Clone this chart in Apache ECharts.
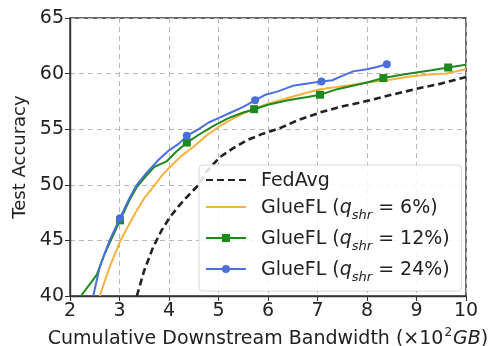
<!DOCTYPE html>
<html>
<head>
<meta charset="utf-8">
<script src="https://cdn.jsdelivr.net/npm/echarts@6/dist/echarts.min.js"></script>
<style>html,body{margin:0;padding:0;background:#fff}#c{width:494px;height:346px}</style>
</head>
<body>
<div id="c"></div>
<script>
// ---- data ----
const fedavgX = [3.35, 3.5, 3.68, 3.85, 4.02, 4.2, 4.36, 4.6, 4.76, 5.03, 5.3, 5.57, 5.9, 6.24, 6.6, 7.05, 7.45, 8.06, 8.5, 9.07, 9.5, 10.0];
const fedavgY = [40.0, 42.3, 44.4, 45.9, 47.1, 48.1, 48.9, 50.0, 51.2, 52.5, 53.3, 54.0, 54.6, 55.1, 55.8, 56.5, 57.0, 57.6, 58.1, 58.7, 59.1, 59.7];

const q6X = [2.6, 2.8, 3.01, 3.2, 3.35, 3.5, 3.68, 3.85, 4.02, 4.25, 4.49, 4.75, 5.0, 5.35, 5.7, 6.0, 6.4, 6.8, 7.05, 7.4, 7.72, 8.0, 8.4, 8.8, 9.2, 9.6, 10.0];
const q6Y = [40.0, 42.6, 44.9, 46.5, 47.7, 48.8, 49.8, 50.8, 51.6, 52.6, 53.4, 54.4, 55.2, 56.1, 56.8, 57.3, 57.8, 58.3, 58.6, 58.8, 59.0, 59.2, 59.4, 59.7, 59.9, 60.0, 60.4];

const q12X = [2.22, 2.54, 2.7, 3.01, 3.2, 3.35, 3.5, 3.7, 3.95, 4.15, 4.36, 4.6, 4.9, 5.2, 5.5, 5.72, 6.0, 6.4, 6.8, 7.05, 7.4, 7.8, 8.0, 8.33, 8.7, 9.0, 9.3, 9.64, 10.0];
const q12Y = [40.0, 41.9, 43.8, 46.8, 48.6, 49.8, 50.6, 51.6, 52.1, 53.0, 53.8, 54.5, 55.3, 56.0, 56.5, 56.8, 57.2, 57.6, 57.9, 58.1, 58.6, 59.0, 59.2, 59.6, 59.9, 60.1, 60.3, 60.55, 60.8];
const q12Markers = [3, 10, 15, 19, 23, 27];

const q24X = [2.47, 2.6, 2.8, 3.01, 3.2, 3.35, 3.55, 3.8, 4.0, 4.2, 4.36, 4.6, 4.8, 5.0, 5.25, 5.5, 5.74, 5.95, 6.2, 6.5, 6.8, 7.08, 7.3, 7.5, 7.72, 8.0, 8.2, 8.4];
const q24Y = [40.0, 42.6, 45.0, 47.0, 48.8, 50.0, 51.1, 52.3, 53.1, 53.7, 54.4, 55.0, 55.6, 56.0, 56.5, 57.0, 57.6, 58.1, 58.4, 58.9, 59.1, 59.3, 59.4, 59.8, 60.2, 60.4, 60.6, 60.85];
const q24Markers = [3, 10, 16, 21, 27];

const xTicks = [2, 3, 4, 5, 6, 7, 8, 9, 10];
const yTicks = [40, 45, 50, 55, 60, 65];

const seriesNames = ['FedAvg', 'GlueFL (6%)', 'GlueFL (12%)', 'GlueFL (24%)'];
const legendPct = ['', '6%', '12%', '24%'];

function pairs(xs, ys, markers) {
  return xs.map((x, i) => {
    const item = { value: [x, ys[i]] };
    if (!markers || markers.indexOf(i) < 0) item.symbol = 'none';
    return item;
  });
}

const chart = echarts.init(document.getElementById('c'), null, { renderer: 'canvas' });
const FONT = 'DejaVu Sans';
const TXT = '#222';

chart.setOption({
  animation: false,
  backgroundColor: '#fff',
  grid: { left: 70, right: 28, top: 18, bottom: 50, outerBoundsMode: 'none', containLabel: false, show: true, borderColor: '#333', borderWidth: 1.4, backgroundColor: 'transparent' },
  xAxis: {
    type: 'value', min: xTicks[0], max: xTicks[xTicks.length - 1], interval: 1,
    axisLine: { show: true, lineStyle: { color: '#333', width: 1.4 } },
    axisTick: { show: true, inside: false, length: 5, lineStyle: { color: '#333' } },
    axisLabel: { color: TXT, fontFamily: FONT, fontSize: 19, margin: 6 },
    splitLine: { show: true, lineStyle: { color: '#b8b8b8', type: [5, 4], width: 1 } },
    nameLocation: 'middle', nameGap: 31,
    name: '{n|Cumulative Downstream Bandwidth (×10}{sup|2}{i|GB}{n|)}',
    nameTextStyle: {
      color: TXT, fontFamily: FONT, fontSize: 19,
      rich: {
        n: { fontFamily: FONT, fontSize: 19, color: TXT, lineHeight: 22, verticalAlign: 'bottom' },
        sup: { fontFamily: FONT, fontSize: 12, color: TXT, lineHeight: 22, verticalAlign: 'top', padding: [0, 1, 0, 1] },
        i: { fontFamily: FONT, fontSize: 19, fontStyle: 'italic', color: TXT, lineHeight: 22, verticalAlign: 'bottom' }
      }
    }
  },
  yAxis: {
    type: 'value', min: yTicks[0], max: yTicks[yTicks.length - 1], interval: 5,
    axisLine: { show: true, lineStyle: { color: '#333', width: 1.4 } },
    axisTick: { show: true, inside: false, length: 5, lineStyle: { color: '#333' } },
    axisLabel: { color: TXT, fontFamily: FONT, fontSize: 19, margin: 6 },
    splitLine: { show: true, lineStyle: { color: '#b8b8b8', type: [5, 4], width: 1 } },
    name: 'Test Accuracy', nameLocation: 'middle', nameGap: 31,
    nameTextStyle: { color: TXT, fontFamily: FONT, fontSize: 18 }
  },
  legend: {
    orient: 'vertical', left: 199, top: 165,
    padding: [7, 12, 7, 6], itemGap: 8, itemWidth: 40, itemHeight: 10,
    backgroundColor: 'rgba(255,255,255,0.85)', borderColor: '#d8d8d8', borderWidth: 1, borderRadius: 4,
    data: [
      { name: seriesNames[0], itemStyle: { opacity: 0 } },
      { name: seriesNames[1], itemStyle: { opacity: 0 } },
      { name: seriesNames[2] },
      { name: seriesNames[3] }
    ],
    formatter: function (name) {
      const i = seriesNames.indexOf(name);
      if (i === 0) return '{n|FedAvg}';
      return '{n|GlueFL (}{q|q}{s|shr}{n| = ' + legendPct[i] + ')}';
    },
    textStyle: {
      color: TXT, fontFamily: FONT, fontSize: 19, padding: [0, 0, 0, 10],
      rich: {
        n: { fontFamily: FONT, fontSize: 19, color: TXT, lineHeight: 22, verticalAlign: 'bottom' },
        q: { fontFamily: FONT, fontSize: 19, fontStyle: 'italic', color: TXT, lineHeight: 22, verticalAlign: 'bottom' },
        s: { fontFamily: FONT, fontSize: 13, fontStyle: 'italic', color: TXT, lineHeight: 22, verticalAlign: 'bottom', padding: [0, 0, -4, 0] }
      }
    }
  },
  series: [
    {
      name: seriesNames[0], type: 'line', smooth: false, symbol: 'none', z: 2,
      lineStyle: { color: '#222', width: 2.6, type: [7, 4] }, itemStyle: { color: '#222' },
      data: pairs(fedavgX, fedavgY, null)
    },
    {
      name: seriesNames[1], type: 'line', symbol: 'none', z: 3,
      lineStyle: { color: '#f5b240', width: 2 }, itemStyle: { color: '#f5b240' },
      data: pairs(q6X, q6Y, null)
    },
    {
      name: seriesNames[2], type: 'line', symbol: 'rect', symbolSize: 8, showAllSymbol: true, z: 4,
      lineStyle: { color: '#1e8a1e', width: 2 }, itemStyle: { color: '#1e8a1e' },
      data: pairs(q12X, q12Y, q12Markers)
    },
    {
      name: seriesNames[3], type: 'line', symbol: 'circle', symbolSize: 8, showAllSymbol: true, z: 5,
      lineStyle: { color: '#4a6fdc', width: 2 }, itemStyle: { color: '#4a6fdc' },
      data: pairs(q24X, q24Y, q24Markers)
    }
  ]
});
</script>
</body>
</html>
